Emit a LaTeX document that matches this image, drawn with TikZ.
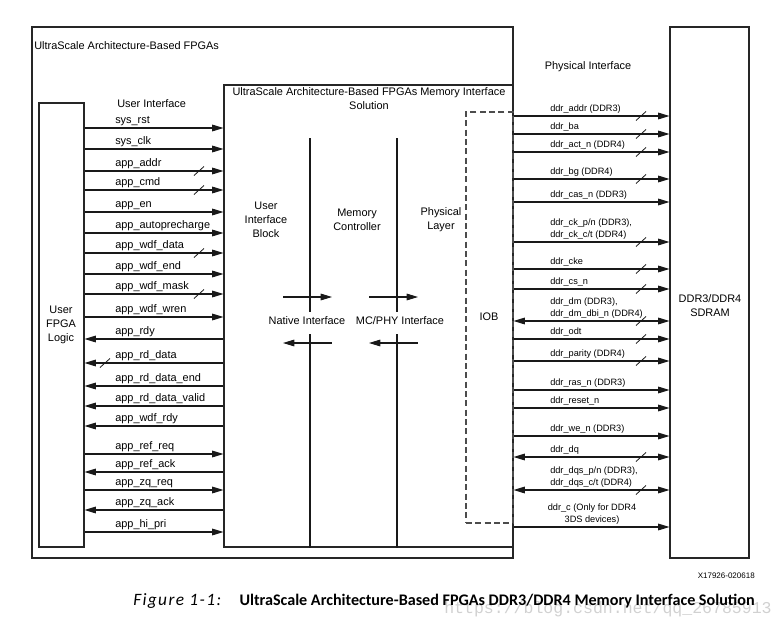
\documentclass[tikz,border=0pt]{standalone}
\usepackage{fontspec}
\setmainfont{Liberation Sans}
\newfontfamily\capfont{Carlito}
\newfontfamily\capitfont[LetterSpace=8]{Carlito}
\newfontfamily\wmfont{Liberation Mono}
\usetikzlibrary{arrows.meta,fit,positioning}

\tikzset{
  box/.style={draw=black!85, line width=0.8pt, inner sep=0pt},
  iobbox/.style={draw=black!70, line width=0.8pt, dash pattern=on 4.5pt off 2.5pt, inner sep=0pt},
  sig/.style={draw=black!90, line width=0.8pt},
  outsig/.style={sig, -{Triangle[length=8.5pt,width=5pt]}},
  insig/.style={sig, {Triangle[length=8.5pt,width=5pt]}-},
  bisig/.style={sig, {Triangle[length=8.5pt,width=5pt]}-{Triangle[length=8.5pt,width=5pt]}},
  buswidth/.style={draw=black!90, line width=0.6pt},
  lbl/.style={font=\fontsize{8.2}{10.5}\selectfont, inner sep=0pt},
  phylbl/.style={font=\fontsize{6.9}{8.6}\selectfont, inner sep=0pt, align=left, anchor=south west},
}

\begin{document}
\begin{tikzpicture}[x=0.75pt, y=-0.75pt]
  \useasboundingbox (0,0) rectangle (776,625);

  % the blocks
  \node[box, fit={(32,27) (513,558)}] (fpga) {};
  \node[box, fit={(39,103) (84,547)}] (ufl) {};
  \node[box, fit={(224,85) (513,547)}] (mig) {};
  \node[iobbox, fit={(466,112) (513,523)}] (iob) {};
  \node[box, fit={(670,27) (749,558)}] (ddr) {};

  % titles
  \node[lbl, anchor=base west] (fpgatitle) at (34,49) {UltraScale Architecture-Based FPGAs};
  \node[lbl] (phyif) at (588,67) {Physical Interface};
  \node[lbl, align=center, anchor=north] (migtitle) at (369,87) {UltraScale Architecture-Based FPGAs Memory Interface\\Solution};
  \node[lbl, anchor=base west] (userif) at (117,107) {User Interface};
  \node[lbl, align=center] (uflname) at (61,325) {User\\FPGA\\Logic};
  \node[lbl, align=center] (ddrname) at (710,306) {DDR3/DDR4\\SDRAM};

  % inside the memory interface solution
  \node[lbl, align=center] (uib) at (266,220) {User\\Interface\\Block};
  \node[lbl, align=center] (mc) at (357,220) {Memory\\Controller};
  \node[lbl, align=center] (phy) at (441,220) {Physical\\Layer};
  \node[lbl] (iobname) at (489,317) {IOB};
  \node[lbl] (native) at (307,321) {Native Interface};
  \node[lbl] (mcphy) at (400,321) {MC/PHY Interface};

  \foreach \x/\nm in {310/ni, 397/mp} {
    \coordinate (\nm-top) at (\x,138);
    \coordinate (\nm-a) at (\x,312);
    \coordinate (\nm-b) at (\x,334);
    \draw[sig] (\nm-top) -- (\nm-a) (\nm-b) -- (\nm-b |- mig.south);
  }
  \foreach \xa/\xb/\nm in {283/332/ni, 369/418/mp} {
    \coordinate (\nm-wl) at (\xa,297);
    \coordinate (\nm-wr) at (\xb,297);
    \coordinate (\nm-rl) at (\xa,343);
    \coordinate (\nm-rr) at (\xb,343);
    \draw[outsig] (\nm-wl) -- (\nm-wr);
    \draw[insig] (\nm-rl) -- (\nm-rr);
  }

  % user interface signals
  \foreach \y/\name/\dir/\bus [count=\i] in {
      128/sys\_rst/outsig/0, 149/sys\_clk/outsig/0, 171/app\_addr/outsig/1,
      190/app\_cmd/outsig/1, 212/app\_en/outsig/0, 233/app\_autoprecharge/outsig/0,
      253/app\_wdf\_data/outsig/1, 274/app\_wdf\_end/outsig/0, 294/app\_wdf\_mask/outsig/1,
      317/app\_wdf\_wren/outsig/0, 339/app\_rdy/insig/0, 363/app\_rd\_data/insig/2,
      386/app\_rd\_data\_end/insig/0, 406/app\_rd\_data\_valid/insig/0, 426/app\_wdf\_rdy/insig/0,
      454/app\_ref\_req/outsig/0, 472/app\_ref\_ack/insig/0, 490/app\_zq\_req/outsig/0,
      510/app\_zq\_ack/insig/0, 532/app\_hi\_pri/outsig/0} {
    \draw[\dir] (ufl.east |- 0,\y) -- (mig.west |- 0,\y);
    \node[lbl, anchor=south west] (ui-\i) at (115,\y-2) {\name};
    \ifnum\bus=1 \draw[buswidth] (194,\y+4.5) -- (204,\y-4.5); \fi
    \ifnum\bus=2 \draw[buswidth] (100,\y+4.5) -- (110,\y-4.5); \fi
  }

  % physical interface signals
  \foreach \y/\name/\dir/\bus [count=\i] in {
      116/{ddr\_addr (DDR3)}/outsig/1, 134/{ddr\_ba}/outsig/1,
      152/{ddr\_act\_n (DDR4)}/outsig/1, 179/{ddr\_bg (DDR4)}/outsig/1,
      202/{ddr\_cas\_n (DDR3)}/outsig/0,
      242/{ddr\_ck\_p/n (DDR3),\\ddr\_ck\_c/t (DDR4)}/outsig/1,
      269/{ddr\_cke}/outsig/1, 289/{ddr\_cs\_n}/outsig/1,
      321/{ddr\_dm (DDR3),\\ddr\_dm\_dbi\_n (DDR4)}/bisig/1,
      339/{ddr\_odt}/outsig/1, 361/{ddr\_parity (DDR4)}/outsig/1,
      390/{ddr\_ras\_n (DDR3)}/outsig/0, 408/{ddr\_reset\_n}/outsig/0,
      436/{ddr\_we\_n (DDR3)}/outsig/0, 457/{ddr\_dq}/bisig/1,
      490/{ddr\_dqs\_p/n (DDR3),\\ddr\_dqs\_c/t (DDR4)}/bisig/1} {
    \draw[\dir] (fpga.east |- 0,\y) -- (ddr.west |- 0,\y);
    \node[phylbl] (pi-\i) at (550,\y-2.5) {\name};
    \ifnum\bus=1 \draw[buswidth] (636,\y+4.5) -- (646,\y-4.5); \fi
  }
  \draw[outsig] (fpga.east |- 0,527) -- (ddr.west |- 0,527);
  \node[phylbl, align=center, anchor=south] (pi-c) at (592,524.5) {ddr\_c (Only for DDR4\\3DS devices)};

  % caption
  \node[font=\wmfont\fontsize{12.4}{14}\selectfont, text=black!18, anchor=base west, inner sep=0pt] (wmark) at (444,613) {https://blog.csdn.net/qq\_26785913};
  \node[font=\fontsize{6}{7}\selectfont, anchor=east, inner sep=0pt] (figid) at (755,576) {X17926-020618};
  \node[font=\capitfont\itshape\fontsize{13}{15}\selectfont, anchor=base west, inner sep=0pt] (fignum) at (133,605) {Figure 1-1:};
  \node[font=\capfont\bfseries\fontsize{12.1}{14}\selectfont, anchor=base east, inner sep=0pt] (figtitle) at (755,605) {UltraScale Architecture-Based FPGAs DDR3/DDR4 Memory Interface Solution};
\end{tikzpicture}
\end{document}
